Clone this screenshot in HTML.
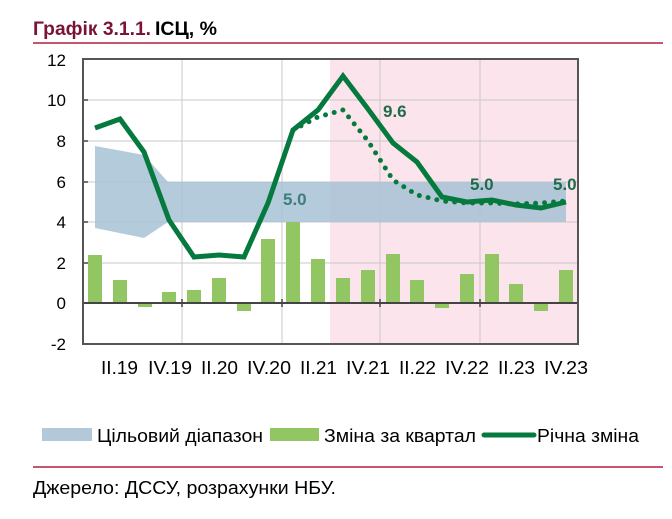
<!DOCTYPE html>
<html><head><meta charset="utf-8"><style>
html,body{margin:0;padding:0;background:#fff;}
svg{display:block;font-family:"Liberation Sans Narrow","Liberation Sans",sans-serif;}
</style></head><body>
<svg width="672" height="519" viewBox="0 0 672 519" xmlns="http://www.w3.org/2000/svg">
<text x="33" y="35" font-size="19" font-weight="bold" fill="#7a1435" textLength="118" lengthAdjust="spacingAndGlyphs">Графік 3.1.1.</text>
<text x="155" y="35" font-size="19" font-weight="bold" fill="#000" textLength="62" lengthAdjust="spacingAndGlyphs">ІСЦ, %</text>
<rect x="33" y="42" width="630" height="2" fill="#c4566e"/>
<rect x="330" y="59" width="248" height="285" fill="#fce4ec"/>
<g stroke="#c8c8c8" stroke-width="1">
<line x1="83" y1="100" x2="578" y2="100"/><line x1="83" y1="141" x2="578" y2="141"/>
<line x1="83" y1="182" x2="578" y2="182"/><line x1="83" y1="222" x2="578" y2="222"/>
<line x1="83" y1="263" x2="578" y2="263"/>
<line x1="182" y1="59" x2="182" y2="344"/><line x1="282" y1="59" x2="282" y2="344"/>
<line x1="380" y1="59" x2="380" y2="344"/><line x1="480" y1="59" x2="480" y2="344"/>
</g>
<polygon points="95,146 144,155 168,182 566,182 566,222 168,222 144,238 95,228" fill="#a7c2d6" fill-opacity="0.85"/>
<g fill="#92c663">
<rect x="88" y="255" width="14" height="48"/>
<rect x="113" y="280" width="14" height="23"/>
<rect x="138" y="303" width="14" height="4"/>
<rect x="162" y="292" width="14" height="11"/>
<rect x="187" y="290" width="14" height="13"/>
<rect x="212" y="278" width="14" height="25"/>
<rect x="237" y="303" width="14" height="8"/>
<rect x="261" y="239" width="14" height="64"/>
<rect x="286" y="222" width="14" height="81"/>
<rect x="311" y="259" width="14" height="44"/>
<rect x="336" y="278" width="14" height="25"/>
<rect x="361" y="270" width="14" height="33"/>
<rect x="386" y="254" width="14" height="49"/>
<rect x="410" y="280" width="14" height="23"/>
<rect x="435" y="303" width="14" height="5"/>
<rect x="460" y="274" width="14" height="29"/>
<rect x="485" y="254" width="14" height="49"/>
<rect x="509" y="284" width="14" height="19"/>
<rect x="534" y="303" width="14" height="8"/>
<rect x="559" y="270" width="14" height="33"/>
</g>
<line x1="83" y1="303" x2="578" y2="303" stroke="#444" stroke-width="2"/>
<g stroke="#444" stroke-width="1.5">
<line x1="182" y1="299" x2="182" y2="307"/><line x1="282" y1="299" x2="282" y2="307"/>
<line x1="380" y1="299" x2="380" y2="307"/><line x1="480" y1="299" x2="480" y2="307"/>
<line x1="83" y1="100" x2="88" y2="100"/><line x1="83" y1="141" x2="88" y2="141"/>
<line x1="83" y1="182" x2="88" y2="182"/><line x1="83" y1="222" x2="88" y2="222"/>
<line x1="83" y1="263" x2="88" y2="263"/>
</g>
<rect x="83" y="59" width="495" height="285" fill="none" stroke="#555" stroke-width="2"/>
<polyline points="293,130 318,117 343,110 368,141 393,180 417,195 442,201 467,203 492,203 516,204 541,203 566,201" fill="none" stroke="#067a3e" stroke-width="5" stroke-linecap="round" stroke-dasharray="0 9"/>
<polyline points="95,128 120,119 144,152 169,220 194,257 219,255 244,257 268,203 293,130 318,110 343,76 368,109 393,143 417,162 442,197 467,202 492,200 516,205 541,208 566,202" fill="none" stroke="#067a3e" stroke-width="5"/>
<g font-family="Liberation Sans,sans-serif" font-weight="bold" font-size="17">
<text x="283" y="205" fill="#3d7d80">5.0</text>
<text x="383" y="117" fill="#1f6b4a">9.6</text>
<text x="470" y="190" fill="#1f6b4a">5.0</text>
<text x="553" y="190" fill="#1f6b4a">5.0</text>
</g>
<g font-size="17" text-anchor="end" fill="#000">
<text x="66" y="66">12</text><text x="66" y="106">10</text><text x="66" y="147">8</text>
<text x="66" y="188">6</text><text x="66" y="228">4</text><text x="66" y="269">2</text>
<text x="66" y="309">0</text><text x="66" y="350">-2</text>
</g>
<g font-size="18" fill="#000" lengthAdjust="spacingAndGlyphs">
<text x="101" y="374" textLength="37" lengthAdjust="spacingAndGlyphs">II.19</text>
<text x="148" y="374" textLength="44" lengthAdjust="spacingAndGlyphs">IV.19</text>
<text x="201" y="374" textLength="37" lengthAdjust="spacingAndGlyphs">II.20</text>
<text x="247" y="374" textLength="44" lengthAdjust="spacingAndGlyphs">IV.20</text>
<text x="300" y="374" textLength="37" lengthAdjust="spacingAndGlyphs">II.21</text>
<text x="346" y="374" textLength="44" lengthAdjust="spacingAndGlyphs">IV.21</text>
<text x="399" y="374" textLength="37" lengthAdjust="spacingAndGlyphs">II.22</text>
<text x="445" y="374" textLength="44" lengthAdjust="spacingAndGlyphs">IV.22</text>
<text x="498" y="374" textLength="37" lengthAdjust="spacingAndGlyphs">II.23</text>
<text x="544" y="374" textLength="44" lengthAdjust="spacingAndGlyphs">IV.23</text>
</g>
<rect x="42" y="428" width="50" height="13" fill="#b3c9da"/>
<text x="97" y="442" font-size="18" textLength="166" lengthAdjust="spacingAndGlyphs">Цільовий діапазон</text>
<rect x="270" y="428" width="49" height="13" fill="#92c663"/>
<text x="324" y="442" font-size="18" textLength="152" lengthAdjust="spacingAndGlyphs">Зміна за квартал</text>
<line x1="484" y1="435" x2="534" y2="435" stroke="#067a3e" stroke-width="5" stroke-linecap="round"/>
<text x="537" y="442" font-size="18" textLength="102" lengthAdjust="spacingAndGlyphs">Річна зміна</text>
<rect x="33" y="466" width="630" height="2" fill="#c4566e"/>
<text x="33" y="494" font-size="18" textLength="303" lengthAdjust="spacingAndGlyphs">Джерело: ДССУ, розрахунки НБУ.</text>
</svg>
</body></html>
